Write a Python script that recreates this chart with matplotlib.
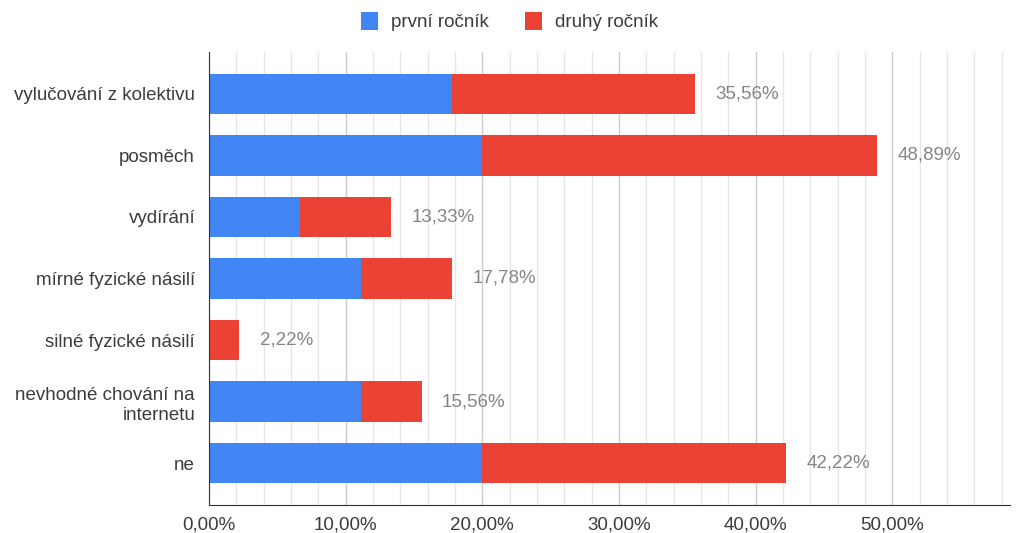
import matplotlib
matplotlib.use("Agg")
import matplotlib.pyplot as plt
import numpy as np
from matplotlib.ticker import MultipleLocator, FuncFormatter

categories = ["vylučování z kolektivu", "posměch", "vydírání", "mírné fyzické násilí",
              "silné fyzické násilí", "nevhodné chování na\ninternetu", "ne"]
prvni = [17.778, 20.000, 6.667, 11.111, 0.000, 11.111, 20.000]
druhy = [17.778, 28.889, 6.667, 6.667, 2.222, 4.444, 22.222]
total_labels = ["35,56%", "48,89%", "13,33%", "17,78%", "2,22%", "15,56%", "42,22%"]
series_names = ["první ročník", "druhý ročník"]

plt.rcParams['font.family'] = ['Liberation Sans', 'DejaVu Sans']
BLUE = "#4285F4"
RED = "#EA4335"
GRAY = "#858585"
DARK = "#3c3c3c"
FS = 13.5

fig = plt.figure(figsize=(10.17, 5.33), dpi=100)
ax = fig.add_axes([0.2055, 0.0525, 0.7875, 0.85])

y = np.arange(len(categories))
h = 0.66
ax.barh(y, prvni, height=h, color=BLUE, label=series_names[0], zorder=3)
ax.barh(y, druhy, left=prvni, height=h, color=RED, label=series_names[1], zorder=3)

totals = [a + b for a, b in zip(prvni, druhy)]
for yi, t, lab in zip(y, totals, total_labels):
    ax.text(t + 1.5, yi, lab, va="center", ha="left", fontsize=FS, color=GRAY)

ax.set_ylim(len(categories) - 1 + 0.68, -0.68)
ax.set_xlim(0, 58.6)
ax.set_yticks(y)
ax.set_yticklabels(categories, fontsize=FS, color=DARK, linespacing=1.25)
ax.xaxis.set_major_locator(MultipleLocator(10))
ax.xaxis.set_minor_locator(MultipleLocator(2))
ax.xaxis.set_major_formatter(FuncFormatter(lambda v, p: f"{v:.2f}%".replace(".", ",")))
ax.tick_params(axis="x", which="both", length=0, labelsize=FS, labelcolor=DARK, pad=8)
ax.tick_params(axis="y", length=0, pad=10)
ax.grid(axis="x", which="major", color="#cccccc", linewidth=1, zorder=0)
ax.grid(axis="x", which="minor", color="#e6e6e6", linewidth=1, zorder=0)
for s in ["top", "right"]:
    ax.spines[s].set_visible(False)
ax.spines["left"].set_color("#333333")
ax.spines["bottom"].set_color("#333333")
ax.spines["left"].set_zorder(4)

leg = fig.legend(loc="upper center", bbox_to_anchor=(0.501, 1.01), ncol=2, frameon=False,
                 fontsize=FS, handlelength=0.9, handleheight=1.1, columnspacing=1.9,
                 handletextpad=0.7)
for t in leg.get_texts():
    t.set_color(DARK)

fig.savefig("out.png", dpi=100)
